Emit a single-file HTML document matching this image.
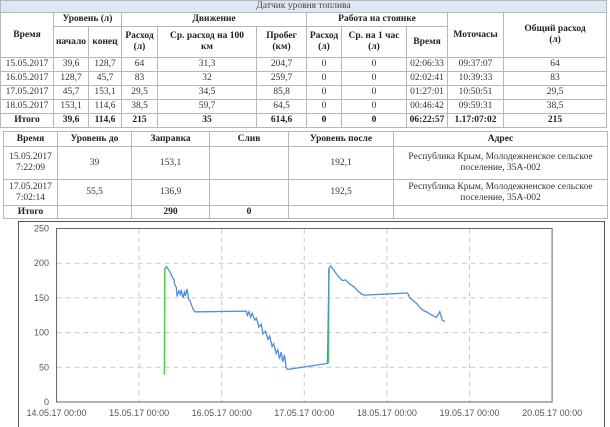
<!DOCTYPE html>
<html><head><meta charset="utf-8">
<style>
body{margin:0;width:610px;height:420px;overflow:hidden;background:#fff;font-family:"Liberation Serif",serif;color:#333}
table{border-collapse:collapse;position:absolute;table-layout:fixed}
td,th{border:1px solid #b8b8b8;padding:0;text-align:center;font-size:9.5px;line-height:11px;overflow:hidden;white-space:nowrap}
th{font-weight:bold;color:#222}
#t1{left:0;top:0;width:606px}
#t2{left:3px;top:131px;width:604px}
.title{background:#dde8f5;font-weight:normal;height:11px;color:#444}
.b td{font-weight:bold;color:#222}
#chartbox{position:absolute;left:18px;top:221px;width:585px;height:205px;border:1px solid #555;border-bottom:none}
</style></head><body>
<table id="t1">
<colgroup><col style="width:53px"><col style="width:35px"><col style="width:33px"><col style="width:36px"><col style="width:99px"><col style="width:50px"><col style="width:35px"><col style="width:65px"><col style="width:41px"><col style="width:56px"><col style="width:103px"></colgroup>
<tr><th colspan="11" class="title">Датчик уровня топлива</th></tr>
<tr style="height:14px"><th rowspan="2">Время</th><th colspan="2">Уровень (л)</th><th colspan="3">Движение</th><th colspan="3">Работа на стоянке</th><th rowspan="2">Моточасы</th><th rowspan="2">Общий расход<br>(л)</th></tr>
<tr style="height:31px"><th>начало</th><th>конец</th><th>Расход<br>(л)</th><th>Ср. расход на 100<br>км</th><th>Пробег<br>(км)</th><th>Расход<br>(л)</th><th>Ср. на 1 час<br>(л)</th><th>Время</th></tr>
<tr style="height:14px"><td>15.05.2017</td><td>39,6</td><td>128,7</td><td>64</td><td>31,3</td><td>204,7</td><td>0</td><td>0</td><td>02:06:33</td><td>09:37:07</td><td>64</td></tr>
<tr style="height:14px"><td>16.05.2017</td><td>128,7</td><td>45,7</td><td>83</td><td>32</td><td>259,7</td><td>0</td><td>0</td><td>02:02:41</td><td>10:39:33</td><td>83</td></tr>
<tr style="height:14px"><td>17.05.2017</td><td>45,7</td><td>153,1</td><td>29,5</td><td>34,5</td><td>85,8</td><td>0</td><td>0</td><td>01:27:01</td><td>10:50:51</td><td>29,5</td></tr>
<tr style="height:14px"><td>18.05.2017</td><td>153,1</td><td>114,6</td><td>38,5</td><td>59,7</td><td>64,5</td><td>0</td><td>0</td><td>00:46:42</td><td>09:59:31</td><td>38,5</td></tr>
<tr style="height:14px" class="b"><td>Итого</td><td>39,6</td><td>114,6</td><td>215</td><td>35</td><td>614,6</td><td>0</td><td>0</td><td>06:22:57</td><td>1.17:07:02</td><td>215</td></tr>
</table>
<table id="t2">
<colgroup><col style="width:54px"><col style="width:74px"><col style="width:78px"><col style="width:79px"><col style="width:105px"><col style="width:214px"></colgroup>
<tr style="height:15px"><th>Время</th><th>Уровень до</th><th>Заправка</th><th>Слив</th><th>Уровень после</th><th>Адрес</th></tr>
<tr style="height:33px"><td>15.05.2017<br>7:22:09</td><td>39</td><td>153,1</td><td></td><td>192,1</td><td style="white-space:normal">Республика Крым, Молодежненское сельское поселение, 35А-002</td></tr>
<tr style="height:26px"><td>17.05.2017<br>7:02:14</td><td>55,5</td><td>136,9</td><td></td><td>192,5</td><td style="white-space:normal">Республика Крым, Молодежненское сельское поселение, 35А-002</td></tr>
<tr style="height:13px" class="b"><td>Итого</td><td></td><td>290</td><td>0</td><td></td><td></td></tr>
</table>
<div id="chartbox"></div>
<svg id="chart" width="610" height="420" style="position:absolute;left:0;top:0"></svg>
<script>
// time in days since 14.05.17 00:00
const xTicks=["14.05.17 00:00","15.05.17 00:00","16.05.17 00:00","17.05.17 00:00","18.05.17 00:00","19.05.17 00:00","20.05.17 00:00"];
const yTicks=[0,50,100,150,200,250];
const refuelT=[1.307,3.293];
const refuelFrom=[39,55.5];
const refuelTo=[192,192];
const levelT=[1.31,1.33,1.36,1.38,1.40,1.42,1.43,1.45,1.46,1.48,1.50,1.51,1.53,1.55,1.56,1.58,1.60,1.62,1.64,1.66,1.68,1.70,1.75,2.30,2.31,2.33,2.35,2.37,2.40,2.42,2.45,2.48,2.50,2.53,2.56,2.58,2.61,2.63,2.66,2.68,2.70,2.72,2.74,2.76,2.78,2.80,3.28,3.30,3.32,3.35,3.38,3.42,3.46,3.50,3.55,3.60,3.65,3.70,3.73,4.25,4.28,4.32,4.36,4.40,4.44,4.48,4.52,4.56,4.60,4.64,4.67,4.70];
const levelV=[192,195,190,186,180,177,170,165,152,160,155,162,150,158,153,163,148,145,138,132,130,130,130,131,125,130,122,128,118,121,108,112,98,102,90,95,80,84,70,75,62,72,58,68,50,47,55.5,193,196,191,186,180,175,176,170,166,160,155,154,157,150,146,142,136,132,130,127,124,122,130,118,116];
const X=t=>56.5+t*82.6, Y=v=>402-v*0.694;
const svg=document.getElementById('chart');const NS="http://www.w3.org/2000/svg";
function mk(tag,attrs,txt){const e=document.createElementNS(NS,tag);for(const k in attrs)e.setAttribute(k,attrs[k]);if(txt!==undefined)e.textContent=txt;svg.appendChild(e);return e;}
xTicks.forEach((lab,i)=>{
  if(i>0&&i<6){const g=mk('line',{x1:X(i),x2:X(i),y1:Y(250),y2:Y(0),stroke:'#c8c8c8','stroke-dasharray':'5,4'});
  
  }
  const t=mk('text',{x:X(i),y:416,'text-anchor':'middle','font-size':'9','font-family':'Liberation Sans, sans-serif',fill:'#555'},lab);
  
  
});
yTicks.forEach(v=>{
  if(v>0&&v<250){const g=mk('line',{x1:X(0),x2:X(6),y1:Y(v),y2:Y(v),stroke:'#c8c8c8','stroke-dasharray':'5,4'});
  
  }
  const t=mk('text',{x:49,y:Y(v)+3,'text-anchor':'end','font-size':'9','font-family':'Liberation Sans, sans-serif',fill:'#555'},String(v));
  
  
});
const frame=mk('rect',{x:X(0),y:Y(250),width:X(6)-X(0),height:Y(0)-Y(250),fill:'none',stroke:'#666'});


refuelT.forEach((t,i)=>{
  const l=mk('line',{x1:X(t),x2:X(t+0.004),y1:Y(refuelFrom[i]),y2:Y(refuelTo[i]),stroke:'#33dd33','stroke-width':1.5});
  
  
});
const pts=levelT.map((t,i)=>X(t).toFixed(1)+','+Y(levelV[i]).toFixed(1)).join(' ');
const p=mk('polyline',{points:pts,fill:'none',stroke:'#4a8fdd','stroke-width':1.3});


</script>
</body></html>
